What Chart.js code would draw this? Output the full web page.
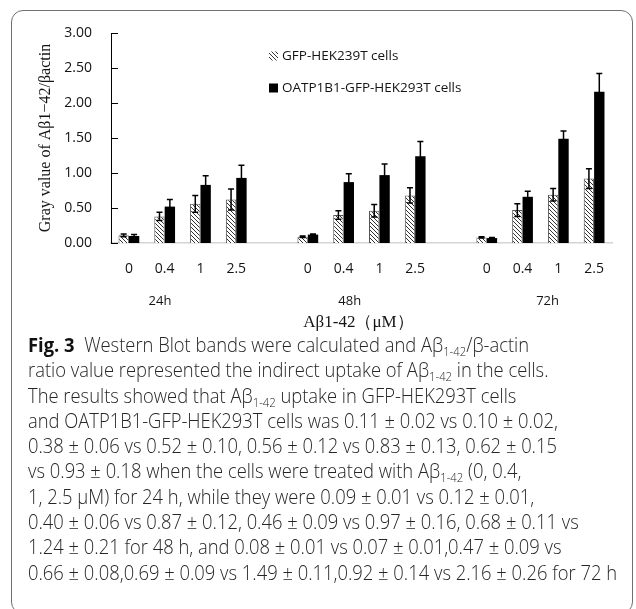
<!DOCTYPE html>
<html>
<head>
<meta charset="utf-8">
<script src="https://cdn.jsdelivr.net/npm/chart.js@4.4.1/dist/chart.umd.min.js"></script>
<style>
	html, body { margin: 0; padding: 0; background: #fff; width: 636px; height: 609px; overflow: hidden; }
	#frame { position: absolute; left: 11px; top: 10px; width: 620px; height: 602px; border: 1px solid #707070; border-radius: 12px; }
	#wrap { position: absolute; left: 0; top: 0; width: 636px; height: 335px; }
	#caption { position: absolute; left: 28px; top: 332px; font-family: 'Open Sans', sans-serif; font-weight: 300;
		font-size: 19.5px; line-height: 25.3px; color: #262626; white-space: nowrap; transform-origin: 0 0; }
	#caption b { font-weight: 700; color: #111; }
	#caption sub { font-size: 12px; vertical-align: -4px; line-height: 0; }
</style>
</head>
<body>
<div id="frame"></div>
<div id="wrap"><canvas id="chart"></canvas></div>
<div id="caption">
	<div><b>Fig. 3</b>&nbsp; Western Blot bands were calculated and Aβ<sub>1-42</sub>/β-actin</div>
	<div>ratio value represented the indirect uptake of Aβ<sub>1-42</sub> in the cells.</div>
	<div>The results showed that Aβ<sub>1-42</sub> uptake in GFP-HEK293T cells</div>
	<div>and OATP1B1-GFP-HEK293T cells was 0.11 ± 0.02 vs 0.10 ± 0.02,</div>
	<div>0.38 ± 0.06 vs 0.52 ± 0.10, 0.56 ± 0.12 vs 0.83 ± 0.13, 0.62 ± 0.15</div>
	<div>vs 0.93 ± 0.18 when the cells were treated with Aβ<sub>1-42</sub> (0, 0.4,</div>
	<div>1, 2.5 μM) for 24 h, while they were 0.09 ± 0.01 vs 0.12 ± 0.01,</div>
	<div>0.40 ± 0.06 vs 0.87 ± 0.12, 0.46 ± 0.09 vs 0.97 ± 0.16, 0.68 ± 0.11 vs</div>
	<div>1.24 ± 0.21 for 48 h, and 0.08 ± 0.01 vs 0.07 ± 0.01,0.47 ± 0.09 vs</div>
	<div id="lastLine">0.66 ± 0.08,0.69 ± 0.09 vs 1.49 ± 0.11,0.92 ± 0.14 vs 2.16 ± 0.26 for 72 h</div>
</div>
<script>
(function () {
	'use strict';

	// Dose slots per time point; empty slots separate the groups.
	var categories  = ['0', '0.4', '1', '2.5', '', '0', '0.4', '1', '2.5', '', '0', '0.4', '1', '2.5'];
	var groupLabels = ['24h', '48h', '72h'];
	var groupAt     = [0.87, 6.17, 11.7];   // category index the group label sits under

	var gfpLabel   = 'GFP-HEK239T cells';
	var gfpValues  = [0.11, 0.38, 0.56, 0.62, null, 0.09, 0.40, 0.46, 0.68, null, 0.08, 0.47, 0.69, 0.92];
	var gfpErrors  = [0.02, 0.06, 0.12, 0.15, null, 0.01, 0.06, 0.09, 0.11, null, 0.01, 0.09, 0.09, 0.14];

	var oatpLabel  = 'OATP1B1-GFP-HEK293T cells';
	var oatpValues = [0.10, 0.52, 0.83, 0.93, null, 0.12, 0.87, 0.97, 1.24, null, 0.07, 0.66, 1.49, 2.16];
	var oatpErrors = [0.02, 0.10, 0.13, 0.18, null, 0.01, 0.12, 0.16, 0.21, null, 0.01, 0.08, 0.11, 0.26];

	var yMin = 0, yMax = 3, yStep = 0.5;
	var yTitle = 'Gray value of Aβ1\u221242/βactin';
	var xTitle = 'Aβ1-42（μM）';

	var sans  = "'Open Sans', 'Noto Sans', sans-serif";
	var serif = "'Liberation Serif', 'DejaVu Serif', serif";
	var ink   = '#141414';

	// caption: squeeze to the width of the original typeset block
	var cap = document.getElementById('caption');
	var last = document.getElementById('lastLine');
	var w = last.getBoundingClientRect().width;
	cap.style.transform = 'scaleX(' + (589 / w) + ')';

	function hatch() {
		var c = document.createElement('canvas');
		c.width = 4; c.height = 4;
		var g = c.getContext('2d');
		g.fillStyle = '#fff';
		g.fillRect(0, 0, 4, 4);
		g.strokeStyle = '#333';
		g.lineWidth = 1;
		g.beginPath();
		g.moveTo(0, 0); g.lineTo(4, 4);
		g.moveTo(-1, 3); g.lineTo(1, 5);
		g.moveTo(3, -1); g.lineTo(5, 1);
		g.stroke();
		return g.createPattern(c, 'repeat');
	}
	var pattern = hatch();

	var errorBars = {
		id: 'errorBars',
		afterDatasetsDraw: function (chart) {
			var ctx = chart.ctx, y = chart.scales.y;
			var errs = [gfpErrors, oatpErrors];
			ctx.save();
			ctx.strokeStyle = '#000';
			ctx.lineWidth = 1.5;
			chart.data.datasets.forEach(function (ds, di) {
				chart.getDatasetMeta(di).data.forEach(function (bar, i) {
					var v = ds.data[i], e = errs[di][i];
					if (v === null || e === null) return;
					var top = y.getPixelForValue(v + e), bot = y.getPixelForValue(v - e);
					ctx.beginPath();
					ctx.moveTo(bar.x, top); ctx.lineTo(bar.x, bot);
					ctx.moveTo(bar.x - 3, top); ctx.lineTo(bar.x + 3, top);
					ctx.moveTo(bar.x - 3, bot); ctx.lineTo(bar.x + 3, bot);
					ctx.stroke();
				});
			});
			ctx.restore();
		}
	};

	var decorations = {
		id: 'decorations',
		afterDraw: function (chart) {
			var ctx = chart.ctx, x = chart.scales.x, y = chart.scales.y, area = chart.chartArea;
			ctx.save();

			// tick marks pointing into the plot
			ctx.strokeStyle = '#000';
			ctx.lineWidth = 1;
			ctx.beginPath();
			y.ticks.forEach(function (t) {
				var py = Math.round(y.getPixelForValue(t.value)) + 0.5;
				ctx.moveTo(area.left, py);
				ctx.lineTo(area.left + 7, py);
			});
			ctx.stroke();

			// group labels and x title
			ctx.fillStyle = ink;
			ctx.textAlign = 'center';
			ctx.textBaseline = 'middle';
			ctx.font = '13px ' + sans;
			groupLabels.forEach(function (g, i) {
				ctx.fillText(g, x.getPixelForValue(groupAt[i]), area.bottom + 58);
			});
			ctx.font = '17px ' + serif;
			ctx.fillText(xTitle, (area.left + area.right) / 2 - 3, area.bottom + 80);

			// y title
			ctx.save();
			ctx.translate(46, (area.top + area.bottom) / 2);
			ctx.rotate(-Math.PI / 2);
			ctx.font = '16px ' + serif;
			ctx.fillText(yTitle, 0, 0);
			ctx.restore();

			// legend inside the plot
			var lx = area.left + 158;
			var items = [
				{ text: gfpLabel, fill: pattern, y: 56 },
				{ text: oatpLabel, fill: '#000', y: 88 }
			];
			ctx.textAlign = 'left';
			ctx.font = '13.5px ' + sans;
			items.forEach(function (it) {
				ctx.fillStyle = it.fill;
				ctx.fillRect(lx, it.y - 4.5, 9, 9);
				ctx.fillStyle = ink;
				ctx.fillText(it.text, lx + 13, it.y);
			});
			ctx.restore();
		}
	};

	new Chart(document.getElementById('chart'), {
		type: 'bar',
		data: {
			labels: categories,
			datasets: [
				{
					label: gfpLabel,
					data: gfpValues,
					backgroundColor: pattern,
					borderColor: '#555',
					borderWidth: 1,
					categoryPercentage: 0.58,
					barPercentage: 1,
				},
				{
					label: oatpLabel,
					data: oatpValues,
					backgroundColor: '#000',
					borderWidth: 0,
					categoryPercentage: 0.58,
					barPercentage: 1,
				},
			],
		},
		options: {
			responsive: true,
			maintainAspectRatio: false,
			animation: false,
			layout: { padding: { top: 33, right: 24, left: 0, bottom: 0 } },
			plugins: {
				legend: { display: false },
				tooltip: { enabled: false },
			},
			scales: {
				x: {
					grid: { display: false, drawTicks: false },
					border: { display: true, color: '#d4d4d4', width: 1.5 },
					ticks: { color: ink, font: { family: sans, size: 14 }, padding: 18, autoSkip: false, maxRotation: 0 },
					afterFit: function (s) { s.height = 92; },
				},
				y: {
					min: yMin,
					max: yMax,
					grid: { display: false, drawTicks: false },
					border: { display: true, color: '#000', width: 1 },
					ticks: {
						stepSize: yStep,
						color: ink,
						font: { family: sans, size: 14 },
						padding: 19,
						callback: function (v) { return v.toFixed(2); },
					},
					afterFit: function (s) { s.width = 111; },
				},
			},
		},
		plugins: [errorBars, decorations],
	});
}());
</script>
</body>
</html>
